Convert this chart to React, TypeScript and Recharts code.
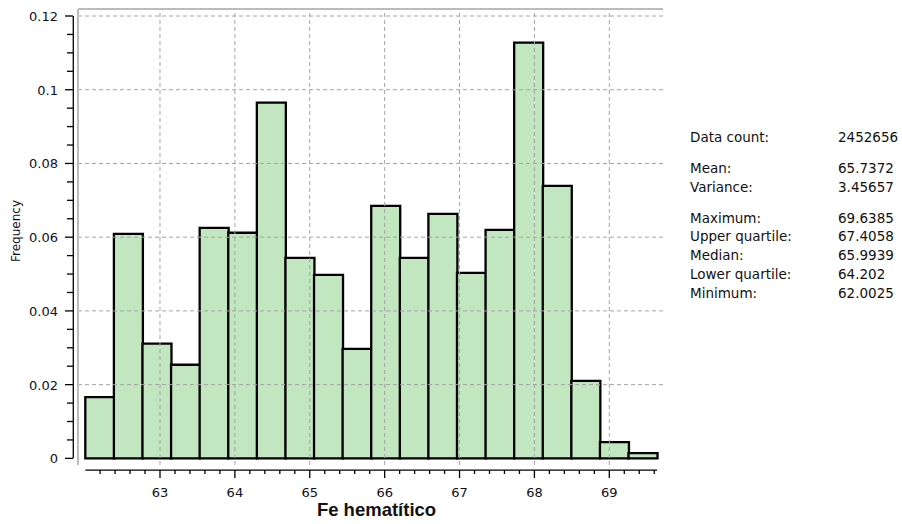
import { BarChart, Bar, XAxis, YAxis, ReferenceLine } from "recharts";

// histogram bins of Fe hematítico (20 bins, 62.0025 .. 69.6385)
const binCenters = [
  62.1934, 62.5752, 62.957, 63.3388, 63.7206, 64.1024, 64.4842, 64.866, 65.2478, 65.6296,
  66.0114, 66.3932, 66.775, 67.1568, 67.5386, 67.9204, 68.3022, 68.684, 69.0658, 69.4476,
];
const frequencies = [
  0.0166, 0.0609, 0.0311, 0.0254, 0.0625, 0.0612, 0.0965, 0.0544, 0.0498, 0.0297,
  0.0685, 0.0544, 0.0663, 0.0503, 0.062, 0.1128, 0.0739, 0.021, 0.0044, 0.0014,
];

const histMin = 62.0025;
const histMax = 69.6385;

const xMajorTicks = [63, 64, 65, 66, 67, 68, 69];
const xAllTicks = [
  62.2, 62.4, 62.6, 62.8, 63, 63.2, 63.4, 63.6, 63.8, 64, 64.2, 64.4, 64.6, 64.8, 65,
  65.2, 65.4, 65.6, 65.8, 66, 66.2, 66.4, 66.6, 66.8, 67, 67.2, 67.4, 67.6, 67.8, 68,
  68.2, 68.4, 68.6, 68.8, 69, 69.2, 69.4, 69.6,
];
const yMajorTicks = [0, 0.02, 0.04, 0.06, 0.08, 0.1, 0.12];
const yTickLabels = ["0", "0.02", "0.04", "0.06", "0.08", "0.1", "0.12"];
const yAllTicks = [
  0, 0.005, 0.01, 0.015, 0.02, 0.025, 0.03, 0.035, 0.04, 0.045, 0.05, 0.055, 0.06,
  0.065, 0.07, 0.075, 0.08, 0.085, 0.09, 0.095, 0.1, 0.105, 0.11, 0.115, 0.12,
];

const statGroups = [
  [["Data count:", "2452656"]],
  [
    ["Mean:", "65.7372"],
    ["Variance:", "3.45657"],
  ],
  [
    ["Maximum:", "69.6385"],
    ["Upper quartile:", "67.4058"],
    ["Median:", "65.9939"],
    ["Lower quartile:", "64.202"],
    ["Minimum:", "62.0025"],
  ],
];

// plot frame in data units
const X_MIN = 61.905;
const X_MAX = 69.717;
const Y_MIN = -0.0018;
const Y_MAX = 0.1219;
const X_AXIS_LEVEL = -0.0032;
const Y_AXIS_LEVEL = 61.842;

const rows = binCenters.map((x, i) => ({ x, freq: frequencies[i] }));

const tickFont = { fontFamily: "DejaVu Sans", fontSize: 13, fill: "#10101c" };

const isMajor = (list: number[], v: number) => list.some((t) => Math.abs(t - v) < 1e-6);

function XTick(props: any) {
  const { x, y, payload } = props;
  const major = isMajor(xMajorTicks, payload.value);
  return (
    <g>
      <line x1={x} x2={x} y1={y + 5} y2={y + (major ? 13 : 9)} stroke="#000" strokeWidth={1.3} />
      {major && (
        <text x={x} y={y + 32} textAnchor="middle" {...tickFont}>
          {payload.value}
        </text>
      )}
    </g>
  );
}

function YTick(props: any) {
  const { x, y, payload } = props;
  const idx = yMajorTicks.findIndex((t) => Math.abs(t - payload.value) < 1e-6);
  const major = idx >= 0;
  return (
    <g>
      <line x1={x - 5} x2={x - (major ? 13 : 11)} y1={y} y2={y} stroke="#000" strokeWidth={1.3} />
      {major && (
        <text x={x - 20} y={y + 5} textAnchor="end" {...tickFont}>
          {yTickLabels[idx]}
        </text>
      )}
    </g>
  );
}

export default function App() {
  return (
    <div style={{ position: "absolute", left: 0, top: 0, width: 902, height: 524, background: "#fff" }}>
      <BarChart
        width={902}
        height={524}
        data={rows}
        margin={{ top: 9, right: 239, bottom: 0, left: 0 }}
        barCategoryGap={0}
        barGap={0}
      >
        <XAxis
          dataKey="x"
          type="number"
          domain={[X_MIN, X_MAX]}
          allowDataOverflow
          ticks={xAllTicks}
          interval={0}
          tick={(p: any) => <XTick {...p} />}
          tickLine={false}
          axisLine={false}
          tickSize={0}
          tickMargin={0}
          height={59}
          label={{
            content: (p: any) => {
              const vb = p.viewBox || { x: 78, width: 585, y: 465 };
              return (
                <text
                  x={vb.x + vb.width / 2 + 6}
                  y={516}
                  textAnchor="middle"
                  fontFamily="Liberation Sans, Arial, sans-serif"
                  fontWeight="bold"
                  fontSize={18.5}
                  fill="#111"
                >
                  Fe hematítico
                </text>
              );
            },
          }}
        />
        <YAxis
          type="number"
          domain={[Y_MIN, Y_MAX]}
          allowDataOverflow
          ticks={yAllTicks}
          interval={0}
          tick={(p: any) => <YTick {...p} />}
          tickLine={false}
          axisLine={false}
          tickSize={0}
          tickMargin={0}
          width={78}
          label={{
            content: () => (
              <text
                x={20}
                y={231}
                transform="rotate(-90 20 231)"
                textAnchor="middle"
                fontFamily="DejaVu Sans"
                fontSize={12}
                fill="#10101c"
              >
                Frequency
              </text>
            ),
          }}
        />
        <Bar
          dataKey="freq"
          fill="#c2e6c0"
          stroke="#000"
          strokeWidth={2.3}
          isAnimationActive={false}
        />
        {xMajorTicks.map((v) => (
          <ReferenceLine key={"gx" + v} x={v} stroke="#a4a4a4" strokeDasharray="4 3" />
        ))}
        {yMajorTicks
          .filter((v) => v > 0)
          .map((v) => (
            <ReferenceLine key={"gy" + v} y={v} stroke="#a4a4a4" strokeDasharray="4 3" />
          ))}
        <ReferenceLine y={Y_MAX} stroke="#bcbcbc" strokeWidth={2} />
        <ReferenceLine x={X_MIN} stroke="#bcbcbc" strokeWidth={2} />
        <ReferenceLine
          segment={[
            { x: histMin, y: X_AXIS_LEVEL },
            { x: histMax, y: X_AXIS_LEVEL },
          ]}
          stroke="#000"
          strokeWidth={1.3}
          ifOverflow="visible"
        />
        <ReferenceLine
          segment={[
            { x: Y_AXIS_LEVEL, y: 0 },
            { x: Y_AXIS_LEVEL, y: 0.12 },
          ]}
          stroke="#000"
          strokeWidth={1.3}
          ifOverflow="visible"
        />
      </BarChart>
      <div
        style={{
          position: "absolute",
          left: 690,
          top: 128,
          fontFamily: "DejaVu Sans",
          fontSize: 13.5,
          lineHeight: "18.7px",
          color: "#111",
        }}
      >
        {statGroups.map((group, gi) => (
          <div key={gi} style={{ marginTop: gi === 0 ? 0 : 12.3 }}>
            {group.map(([label, value]) => (
              <div key={label} style={{ display: "flex", whiteSpace: "nowrap" }}>
                <span style={{ width: 148 }}>{label}</span>
                <span>{value}</span>
              </div>
            ))}
          </div>
        ))}
      </div>
    </div>
  );
}
